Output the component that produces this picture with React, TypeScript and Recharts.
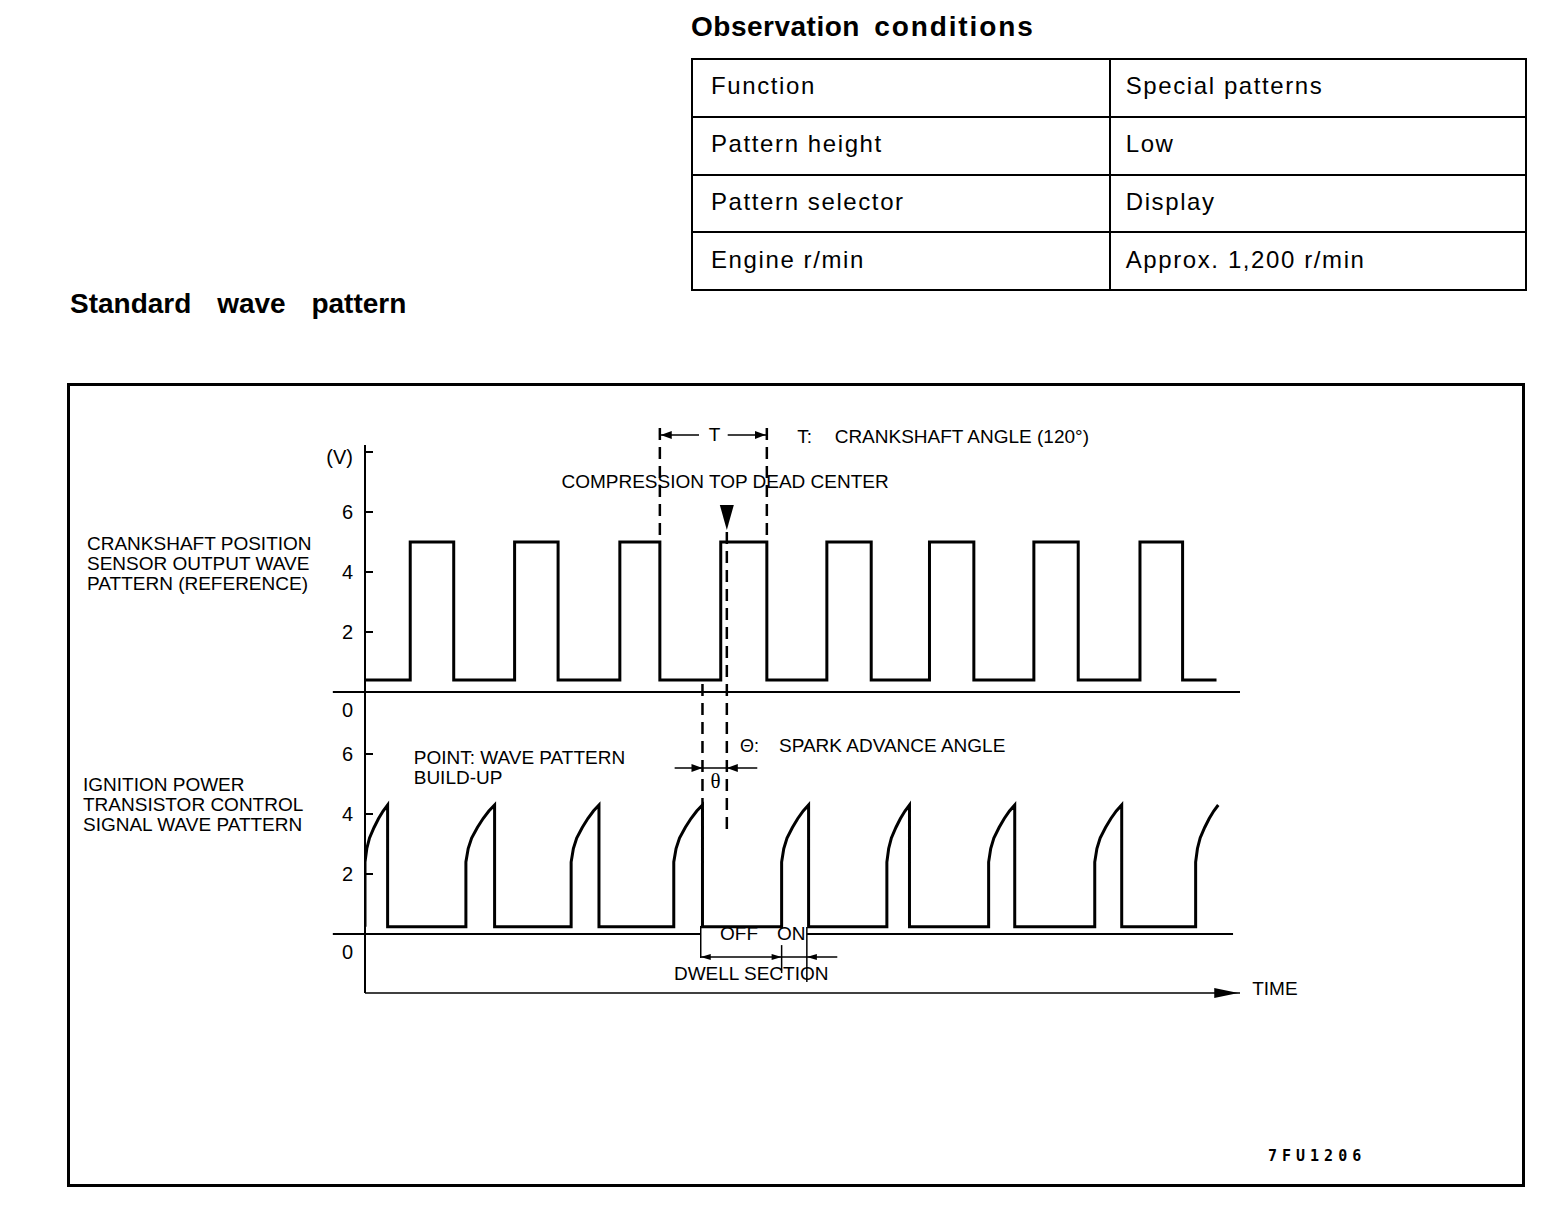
import React from 'react';
import { LineChart, Line, XAxis, YAxis, ReferenceLine, ReferenceDot } from 'recharts';

// crankshaft position sensor output (reference), edges in crank degrees from the left of the trace
const CRANK_RISE = [52, 172, 293, 409, 531, 649, 769, 891];
const CRANK_FALL = [102, 222, 339, 462, 582, 700, 820, 940];
const CRANK_HIGH = 5.0;
const CRANK_LOW = 0.4;
const CRANK_END = 979;

// ignition power transistor control signal: build-up starts at RISE, drops at PEAK
const IGN_RISE = [0, 116, 237, 355, 479, 600, 717, 839, 955];
const IGN_PEAK = [26, 149, 269, 388, 510, 626, 747, 870, 981];
const IGN_LOW = 0.24;
const BUILDUP = [
  [0, 2.4],
  [0.08, 2.85],
  [0.2, 3.2],
  [0.4, 3.55],
  [0.6, 3.85],
  [0.8, 4.1],
  [1, 4.3],
];

const TOP_TICKS = [0, 2, 4, 6, 8];
const BOTTOM_TICKS = [0, 2, 4, 6];

const CONDITIONS = [
  ['Function', 'Special patterns'],
  ['Pattern height', 'Low'],
  ['Pattern selector', 'Display'],
  ['Engine r/min', 'Approx. 1,200 r/min'],
];

// annotation anchors (crank degrees)
const T_START = CRANK_FALL[2];
const T_END = CRANK_FALL[3];
const TDC = 416;
const SPARK = IGN_PEAK[3];
const DWELL_ON = IGN_RISE[4];
const DWELL_END = 508;

const crankData: { t: number; v: number }[] = [{ t: 0, v: CRANK_LOW }];
CRANK_RISE.forEach((r, i) => {
  crankData.push({ t: r, v: CRANK_LOW }, { t: r, v: CRANK_HIGH });
  crankData.push({ t: CRANK_FALL[i], v: CRANK_HIGH }, { t: CRANK_FALL[i], v: CRANK_LOW });
});
crankData.push({ t: CRANK_END, v: CRANK_LOW });

const ignData: { t: number; v: number }[] = [];
IGN_RISE.forEach((r, i) => {
  const p = IGN_PEAK[i];
  ignData.push({ t: r, v: IGN_LOW });
  BUILDUP.forEach(([f, v]) => ignData.push({ t: r + f * (p - r), v }));
  if (i < IGN_RISE.length - 1) ignData.push({ t: p, v: IGN_LOW });
});

const FONT = '"Liberation Sans", Arial, sans-serif';
const PLOT_LEFT = 365;
const X_MAX = 1006;

const txt = (label: string, anchor: 'start' | 'middle' | 'end' = 'start', size = 19, family = FONT) =>
  (p: any) => (
    <text x={p.cx} y={p.cy} textAnchor={anchor} dominantBaseline="central" fontSize={size} fontFamily={family} fill="#000">
      {label}
    </text>
  );

// arrowhead with its tip at the point
const arrow = (dir: 'left' | 'right', len = 11, half = 4) => (p: any) => {
  const s = dir === 'left' ? 1 : -1;
  return (
    <polygon
      points={`${p.cx},${p.cy} ${p.cx + s * len},${p.cy - half} ${p.cx + s * len},${p.cy + half}`}
      fill="#000"
    />
  );
};

const tdcMark = (p: any) => (
  <polygon points={`${p.cx},${p.cy} ${p.cx - 7},${p.cy - 25} ${p.cx + 7},${p.cy - 25}`} fill="#000" />
);

const vTick = (p: any) => {
  const v = p.payload.value;
  const label = v === 8 ? '(V)' : String(v);
  const dy = v === 0 ? 18 : v === 8 ? 5 : 0;
  return (
    <g>
      {v !== 0 && <line x1={PLOT_LEFT} x2={PLOT_LEFT + 8} y1={p.y} y2={p.y} stroke="#000" strokeWidth={2} />}
      <text x={PLOT_LEFT - 12} y={p.y + dy} textAnchor="end" dominantBaseline="central" fontSize={20} fontFamily={FONT} fill="#000">
        {label}
      </text>
    </g>
  );
};

const dash = { stroke: '#000', strokeWidth: 2.5, strokeDasharray: '12 7', ifOverflow: 'visible' as const };
const solid = { stroke: '#000', strokeWidth: 2, ifOverflow: 'visible' as const };
const thin = { stroke: '#000', strokeWidth: 1.5, ifOverflow: 'visible' as const };

const abs = (left: number, top: number): React.CSSProperties => ({ position: 'absolute', left, top });

export default function App() {
  return (
    <div style={{ position: 'absolute', left: 0, top: 0, width: 1568, height: 1216, background: '#fff', fontFamily: FONT, color: '#000' }}>
      <div style={{ ...abs(691, 10), fontSize: 28, fontWeight: 700, lineHeight: '34px', letterSpacing: 0.5, wordSpacing: 6 }}>
        Observation <span style={{ letterSpacing: 1.9 }}>conditions</span>
      </div>
      <table
        style={{ ...abs(691, 58), width: 836, height: 233, borderCollapse: 'collapse', fontSize: 24, letterSpacing: 1.6 }}
      >
        <tbody>
          {CONDITIONS.map((row) => (
            <tr key={row[0]}>
              {row.map((c, j) => (
                <td
                  key={c}
                  style={{
                    border: '2px solid #000',
                    width: j === 0 ? 417 : 419,
                    padding: j === 0 ? '0 0 3px 18px' : '0 0 3px 15px',
                    verticalAlign: 'middle',
                  }}
                >
                  {c}
                </td>
              ))}
            </tr>
          ))}
        </tbody>
      </table>
      <div style={{ ...abs(70, 287), fontSize: 28, fontWeight: 700, lineHeight: '34px', wordSpacing: 18 }}>
        Standard wave pattern
      </div>

      <div style={{ ...abs(67, 383), width: 1452, height: 798, border: '3px solid #000' }} />

      <div style={{ ...abs(87, 534), fontSize: 19, lineHeight: '20px' }}>
        CRANKSHAFT POSITION
        <br />
        SENSOR OUTPUT WAVE
        <br />
        PATTERN (REFERENCE)
      </div>
      <div style={{ ...abs(83, 775), fontSize: 19, lineHeight: '20px' }}>
        IGNITION POWER
        <br />
        TRANSISTOR CONTROL
        <br />
        SIGNAL WAVE PATTERN
      </div>
      <div style={{ ...abs(1268, 1146), fontSize: 15, fontWeight: 700, letterSpacing: 5, fontFamily: '"DejaVu Sans Mono", monospace', lineHeight: '20px' }}>
        7FU1206
      </div>

      <div style={abs(0, 0)}>
        <LineChart width={1568} height={1216} margin={{ top: 445, left: PLOT_LEFT, right: 328, bottom: 193 }}>
          <XAxis
            dataKey="t"
            type="number"
            domain={[0, X_MAX]}
            allowDataOverflow
            tick={false}
            tickLine={false}
            axisLine={{ stroke: '#000', strokeWidth: 1.5 }}
            height={30}
          />
          <YAxis
            yAxisId="top"
            type="number"
            domain={[-10.0333, 8.2333]}
            ticks={TOP_TICKS}
            interval={0}
            mirror
            tickLine={false}
            tick={vTick}
            axisLine={false}
          />
          <YAxis
            yAxisId="bottom"
            type="number"
            domain={[-1.9667, 16.3]}
            ticks={BOTTOM_TICKS}
            interval={0}
            mirror
            tickLine={false}
            tick={vTick}
            axisLine={{ stroke: '#000', strokeWidth: 2 }}
          />

          {/* zero lines */}
          <ReferenceLine yAxisId="top" segment={[{ x: -37, y: 0 }, { x: X_MAX, y: 0 }]} {...solid} />
          <ReferenceLine yAxisId="bottom" segment={[{ x: -37, y: 0 }, { x: 386, y: 0 }]} {...solid} />
          <ReferenceLine yAxisId="bottom" segment={[{ x: DWELL_END, y: 0 }, { x: 998, y: 0 }]} {...solid} />

          <Line yAxisId="top" data={crankData} dataKey="v" type="linear" stroke="#000" strokeWidth={3} dot={false} isAnimationActive={false} />
          <Line yAxisId="bottom" data={ignData} dataKey="v" type="linear" stroke="#000" strokeWidth={3} dot={false} isAnimationActive={false} />

          {/* T: crankshaft angle */}
          <ReferenceLine yAxisId="top" segment={[{ x: T_START, y: 8.8 }, { x: T_START, y: 5.05 }]} {...dash} />
          <ReferenceLine yAxisId="top" segment={[{ x: T_END, y: 8.8 }, { x: T_END, y: 5.05 }]} {...dash} />
          <ReferenceLine yAxisId="top" segment={[{ x: T_START, y: 8.57 }, { x: 384, y: 8.57 }]} {...thin} />
          <ReferenceLine yAxisId="top" segment={[{ x: 417, y: 8.57 }, { x: T_END, y: 8.57 }]} {...thin} />
          <ReferenceDot yAxisId="top" x={T_START + 1} y={8.57} r={0} ifOverflow="visible" shape={arrow('left')} />
          <ReferenceDot yAxisId="top" x={T_END - 1} y={8.57} r={0} ifOverflow="visible" shape={arrow('right')} />
          <ReferenceDot yAxisId="top" x={402} y={8.57} r={0} ifOverflow="visible" shape={txt('T', 'middle')} />
          <ReferenceDot yAxisId="top" x={497} y={8.5} r={0} ifOverflow="visible" shape={txt('T:')} />
          <ReferenceDot yAxisId="top" x={540} y={8.5} r={0} ifOverflow="visible" shape={txt('CRANKSHAFT ANGLE (120°)')} />

          {/* compression top dead center */}
          <ReferenceDot yAxisId="top" x={414} y={7.0} r={0} ifOverflow="visible" shape={txt('COMPRESSION TOP DEAD CENTER', 'middle')} />
          <ReferenceDot yAxisId="top" x={TDC} y={5.4} r={0} ifOverflow="visible" shape={tdcMark} />
          <ReferenceLine yAxisId="bottom" segment={[{ x: TDC, y: 13.4 }, { x: TDC, y: 3.3 }]} {...dash} />

          {/* spark advance angle */}
          <ReferenceLine yAxisId="bottom" segment={[{ x: SPARK, y: 8.33 }, { x: SPARK, y: 4.3 }]} {...dash} />
          <ReferenceLine yAxisId="bottom" segment={[{ x: 356, y: 5.53 }, { x: 451, y: 5.53 }]} {...thin} />
          <ReferenceDot yAxisId="bottom" x={SPARK} y={5.53} r={0} ifOverflow="visible" shape={arrow('right')} />
          <ReferenceDot yAxisId="bottom" x={TDC} y={5.53} r={0} ifOverflow="visible" shape={arrow('left')} />
          <ReferenceDot yAxisId="bottom" x={403} y={5.1} r={0} ifOverflow="visible" shape={txt('θ', 'middle', 21, '"Liberation Serif", serif')} />
          <ReferenceDot yAxisId="bottom" x={431} y={6.27} r={0} ifOverflow="visible" shape={txt('Θ:', 'start', 18)} />
          <ReferenceDot yAxisId="bottom" x={476} y={6.27} r={0} ifOverflow="visible" shape={txt('SPARK ADVANCE ANGLE')} />
          <ReferenceDot yAxisId="bottom" x={56} y={5.87} r={0} ifOverflow="visible" shape={txt('POINT: WAVE PATTERN')} />
          <ReferenceDot yAxisId="bottom" x={56} y={5.2} r={0} ifOverflow="visible" shape={txt('BUILD-UP')} />

          {/* dwell section */}
          <ReferenceLine yAxisId="bottom" segment={[{ x: 386, y: 0.27 }, { x: 386, y: -0.8 }]} {...thin} />
          <ReferenceLine yAxisId="bottom" segment={[{ x: DWELL_ON, y: -0.37 }, { x: DWELL_ON, y: -1.3 }]} {...thin} />
          <ReferenceLine yAxisId="bottom" segment={[{ x: DWELL_END, y: 0.23 }, { x: DWELL_END, y: -1.6 }]} {...thin} />
          <ReferenceLine yAxisId="bottom" segment={[{ x: 386, y: -0.77 }, { x: 543, y: -0.77 }]} {...thin} />
          <ReferenceDot yAxisId="bottom" x={386} y={-0.77} r={0} ifOverflow="visible" shape={arrow('left', 10, 3)} />
          <ReferenceDot yAxisId="bottom" x={DWELL_ON} y={-0.77} r={0} ifOverflow="visible" shape={arrow('right', 10, 3)} />
          <ReferenceDot yAxisId="bottom" x={DWELL_END} y={-0.77} r={0} ifOverflow="visible" shape={arrow('left', 10, 3)} />
          <ReferenceDot yAxisId="bottom" x={430} y={0} r={0} ifOverflow="visible" shape={txt('OFF', 'middle')} />
          <ReferenceDot yAxisId="bottom" x={490} y={0} r={0} ifOverflow="visible" shape={txt('ON', 'middle')} />
          <ReferenceDot yAxisId="bottom" x={444} y={-1.33} r={0} ifOverflow="visible" shape={txt('DWELL SECTION', 'middle')} />

          {/* time axis arrow */}
          <ReferenceDot yAxisId="bottom" x={X_MAX - 2} y={-1.9667} r={0} ifOverflow="visible" shape={arrow('right', 24, 5)} />
          <ReferenceDot yAxisId="bottom" x={1020} y={-1.83} r={0} ifOverflow="visible" shape={txt('TIME')} />
        </LineChart>
      </div>
    </div>
  );
}
